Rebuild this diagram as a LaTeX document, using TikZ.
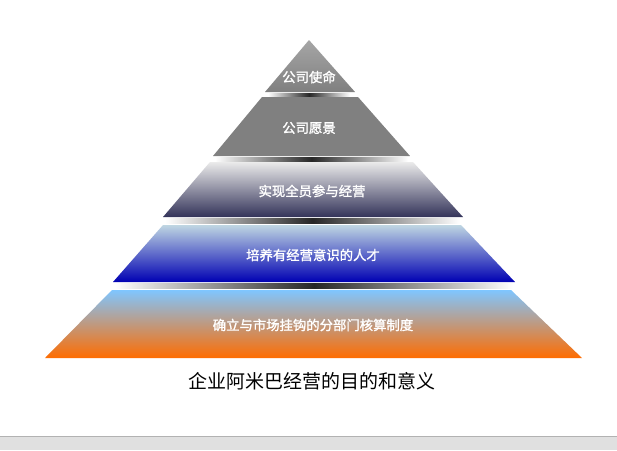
\documentclass[tikz,border=0pt]{standalone}
\usepackage{fontspec}
\newfontfamily\cjk{Noto Sans CJK SC}
\newfontfamily\cjkb[FakeBold=1.5]{Noto Sans CJK SC}
\begin{document}
\begin{tikzpicture}[
        x=0.025cm, y=-0.025cm,
        font=\cjkb\fontsize{9.5}{11}\selectfont
    ]
    \tikzset{
        lbl/.style = {text=white, inner sep=1pt},
        shadowline/.style = {left color=white, right color=white, middle color=black!85},
    }
    \useasboundingbox (0,0) rectangle (617,450);
    \fill[white] (0,0) rectangle (617,450);
    % bottom strip
    \fill[black!12] (0,436) rectangle (617,450);
    \draw[black!30] (0,436) -- (617,436);
    % shadows
    \shade[shadowline] (268,93) rectangle (350,96);
    \shade[shadowline] (215,157) rectangle (408,161);
    \shade[shadowline] (165,218) rectangle (460,223);
    \shade[shadowline] (115,283) rectangle (513,288);
    % layers
    \shade[top color=black!35, bottom color=black!50] (309,40) -- (355,92) -- (265,92) -- cycle;
    \shade[top color=black!50, bottom color=black!50] (262,97) -- (358,97) -- (410,156) -- (213,156) -- cycle;
    \shade[top color=black!8, bottom color=black!75!blue!60!gray] (210,162) -- (413,162) -- (463,217) -- (163,217) -- cycle;
    \shade[top color=blue!35!cyan!55!black!25!white, bottom color=blue!70!black] (163,225) -- (461,225) -- (515,282) -- (113,282) -- cycle;
    \shade[top color=blue!45!cyan!50!white, middle color=red!30!blue!30!white, bottom color=orange!85!red] (112,290) -- (511,290) -- (582,358) -- (45,358) -- cycle;
    % labels
    \node[lbl] (l1) at (309,77) {公司使命};
    \node[lbl] (l2) at (309,128) {公司愿景};
    \node[lbl] (l3) at (312,191) {实现全员参与经营};
    \node[lbl] (l4) at (313,255) {培养有经营意识的人才};
    \node[lbl] (l5) at (313,325) {确立与市场挂钩的分部门核算制度};
    \node[font=\cjk\fontsize{13.5}{16}\selectfont] (title) at (312,381) {企业阿米巴经营的目的和意义};
\end{tikzpicture}
\end{document}
